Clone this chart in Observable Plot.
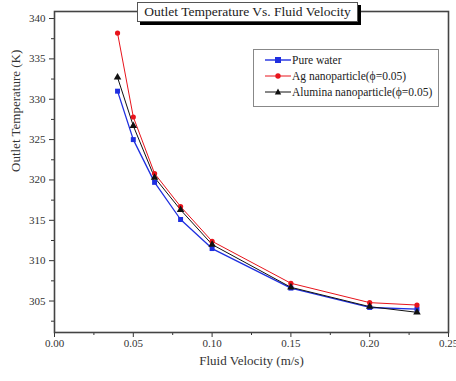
<!DOCTYPE html>
<html><head><meta charset="utf-8">
<script src="https://cdn.jsdelivr.net/npm/d3@7"></script>
<script src="https://cdn.jsdelivr.net/npm/@observablehq/plot@0.6"></script>
<style>
body{margin:0;background:#fff;font-family:"Liberation Serif","DejaVu Serif",serif;}
#wrap{position:relative;width:456px;height:381px;}
#chart svg text{font-family:"Liberation Serif","DejaVu Serif",serif;}
#title{position:absolute;left:137px;top:2px;width:219px;height:18px;background:#fff;border:1px solid #555;box-shadow:3px 3px 0 #000;font-size:13.5px;text-align:center;line-height:18px;color:#222;white-space:nowrap;}
#legend{position:absolute;left:253px;top:49px;width:184px;height:56px;border:1px solid #888;background:#fff;font-size:11.5px;color:#222;}
.row{position:absolute;left:11px;height:14px;display:flex;align-items:center;white-space:nowrap;}
.row svg{margin-right:1px;}
</style></head><body>
<div id="wrap"><div id="chart"></div><div id="title">Outlet Temperature Vs. Fluid Velocity</div><div id="legend"></div></div>
<script>
const velocity = [0.04, 0.05, 0.0635, 0.08, 0.10, 0.15, 0.20, 0.23];
const pureWater = [331.0, 325.0, 319.7, 315.1, 311.5, 306.6, 304.2, 304.0];
const agNano = [338.2, 327.8, 320.8, 316.7, 312.4, 307.2, 304.8, 304.5];
const aluminaNano = [332.7, 326.7, 320.3, 316.3, 312.0, 306.7, 304.3, 303.6];
const seriesNames = ["Pure water", "Ag nanoparticle(\u03d5=0.05)", "Alumina nanoparticle(\u03d5=0.05)"];
const colors = ["#1f2fe0", "#e8141c", "#111111"];
const symbols = ["square", "circle", "triangle"];
const xTicks = [0, 0.05, 0.10, 0.15, 0.20, 0.25];
const xMinor = [0.025, 0.075, 0.125, 0.175, 0.225];
const yTicks = [305, 310, 315, 320, 325, 330, 335, 340];
const yMinor = [302.5, 307.5, 312.5, 317.5, 322.5, 327.5, 332.5, 337.5];

const allSeries = [pureWater, agNano, aluminaNano];
const data = allSeries.flatMap((vals, i) => vals.map((v, j) => ({x: velocity[j], y: v, s: seriesNames[i]})));

const marks = [];
allSeries.forEach((vals, i) => {
  const d = data.filter(r => r.s === seriesNames[i]);
  marks.push(Plot.line(d, {x: "x", y: "y", stroke: colors[i], strokeWidth: i === 0 ? 1.3 : 1}));
});
allSeries.forEach((vals, i) => {
  const d = data.filter(r => r.s === seriesNames[i]);
  marks.push(Plot.dot(d, {x: "x", y: "y", fill: colors[i], stroke: "none", symbol: () => symbols[i], r: i === 1 ? 2.6 : 2.8}));
});

const chart = Plot.plot({
  width: 456, height: 381,
  marginLeft: 54, marginRight: 8, marginTop: 11, marginBottom: 49,
  style: {fontFamily: "'Liberation Serif', serif", fontSize: "11px", color: "#333"},
  x: {domain: [0, 0.25]},
  y: {domain: [301.1, 340.87]},
  marks: [
    Plot.axisX({ticks: xTicks, tickSize: 5, tickFormat: d3.format(".2f"), tickPadding: 2, label: null, fontSize: 11}),
    Plot.axisX({ticks: xMinor, tickSize: 3, tickFormat: () => "", label: null}),
    Plot.axisY({ticks: yTicks, tickSize: 5, tickPadding: 4, label: null, fontSize: 11}),
    Plot.axisY({ticks: yMinor, tickSize: 3, tickFormat: () => "", label: null}),
    Plot.text(["Fluid Velocity (m/s)"], {frameAnchor: "bottom", dy: 32, fontSize: 13, fill: "#333"}),
    Plot.text(["Outlet Temperature (K)"], {frameAnchor: "left", dx: -39, rotate: -90, fontSize: 13, fill: "#333"}),
    ...marks,
    Plot.frame({stroke: "#444", strokeWidth: 1.6})
  ]
});
document.getElementById("chart").appendChild(chart);

const leg = document.getElementById("legend");
seriesNames.forEach((name, i) => {
  const row = document.createElement("div");
  row.className = "row";
  row.style.top = (3 + i * 16) + "px";
  const sym = i === 0 ? `<rect x="10" y="3" width="6" height="6" fill="${colors[i]}"/>` :
              i === 1 ? `<circle cx="13" cy="6" r="2.7" fill="${colors[i]}"/>` :
              `<path d="M13,2.5 L16.2,8.5 L9.8,8.5Z" fill="${colors[i]}"/>`;
  row.innerHTML = `<svg width="26" height="12"><line x1="0" x2="26" y1="6" y2="6" stroke="${colors[i]}" stroke-width="${i===0?1.4:1}"/>${sym}</svg><span>${name}</span>`;
  leg.appendChild(row);
});
</script>
</body></html>
